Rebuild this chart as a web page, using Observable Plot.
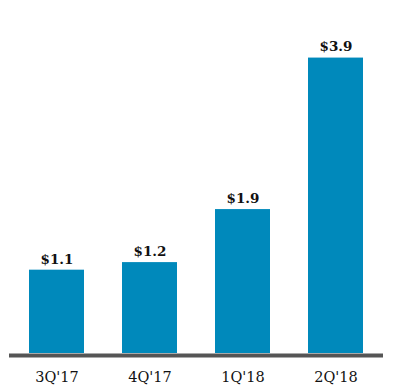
<!DOCTYPE html>
<html>
<head>
<meta charset="utf-8">
<script src="https://cdn.jsdelivr.net/npm/d3@7"></script>
<script src="https://cdn.jsdelivr.net/npm/@observablehq/plot@0.6"></script>
<style>
  html, body { margin: 0; padding: 0; background: #fff; }
</style>
</head>
<body>
<div id="chart"></div>
<script>
const quarters = ["3Q'17", "4Q'17", "1Q'18", "2Q'18"];
const values = [1.1, 1.2, 1.9, 3.9];
const valueLabels = ["$1.1", "$1.2", "$1.9", "$3.9"];

const data = quarters.map((q, i) => ({ q, v: values[i], label: valueLabels[i] }));

const chart = Plot.plot({
  width: 394,
  height: 385,
  marginLeft: 9,
  marginRight: 11,
  marginTop: 50,
  marginBottom: 32,
  style: { fontFamily: "'DejaVu Serif', serif", background: "#fff", overflow: "visible" },
  x: { domain: quarters, paddingInner: 0.41, paddingOuter: 0.21, label: null, tickSize: 0 },
  y: { domain: [0, 4], axis: null },
  marks: [
    Plot.barY(data, { x: "q", y: "v", fill: "#0089bb" }),
    Plot.text(data, { x: "q", y: "v", text: "label", dy: -11, fontSize: 13.5, fontWeight: "bold", fill: "#111" }),
    Plot.ruleY([0], { stroke: "#555", strokeWidth: 4, dy: 2 }),
    Plot.axisX({ tickSize: 0, tickPadding: 18, fontSize: 14.5, fill: "#111", label: null })
  ]
});
document.getElementById("chart").appendChild(chart);
</script>
</body>
</html>
